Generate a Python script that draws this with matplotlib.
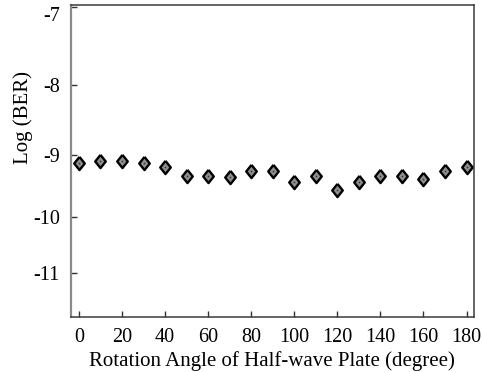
import matplotlib
matplotlib.use("Agg")
import matplotlib.pyplot as plt
import numpy as np
from matplotlib.ticker import FixedLocator

# rotation angle (degree) and measured log10(BER)
angle = [0, 10, 20, 30, 40, 50, 60, 70, 80, 90,
         100, 110, 120, 130, 140, 150, 160, 170, 180]
log_ber = [-9.13, -9.10, -9.09, -9.12, -9.19, -9.33, -9.33, -9.35, -9.25, -9.25,
           -9.42, -9.32, -9.55, -9.42, -9.32, -9.32, -9.37, -9.25, -9.18]
xticks = [0, 20, 40, 60, 80, 100, 120, 140, 160, 180]
yticks = [-7, -8, -9, -10, -11]

plt.rcParams['font.family'] = ['Liberation Serif', 'DejaVu Serif']

fig = plt.figure(figsize=(4.83, 3.72), dpi=100)
ax = fig.add_axes([0.147, 0.148, 0.834, 0.839])

# BER-style axis: -log(-log(BER))
fwd = lambda v: -np.log10(-np.clip(v, None, -1e-9))
inv = lambda y: -10.0 ** (-y)
ax.set_yscale('function', functions=(fwd, inv))

diamond = [(0, 1), (0.8, 0), (0, -1), (-0.8, 0), (0, 1)]
ax.plot(angle, log_ber, linestyle='none', marker=diamond, markersize=9.5,
        markerfacecolor='#8e8e8e', markeredgecolor='black', markeredgewidth=1.7)
ax.plot(angle, log_ber, linestyle='none', marker='o', markersize=1.2,
        markerfacecolor='#333333', markeredgecolor='none')

ax.set_xlim(-3.7, 183.4)
ax.set_ylim(-11.84, -6.98)
ax.xaxis.set_major_locator(FixedLocator(xticks))
ax.yaxis.set_major_locator(FixedLocator(yticks))
ax.yaxis.set_minor_locator(FixedLocator([]))
ax.set_yticklabels([str(t) for t in yticks])
# keep the top label inside the figure
ax.get_yticklabels()[0].set_verticalalignment('top')

ax.tick_params(direction='in', length=4, width=1, labelsize=14.5, pad=8,
               top=False, right=False, colors='#333333', labelcolor='black')

for s in ['top', 'right', 'bottom']:
    ax.spines[s].set_color('#3a3a3a')
    ax.spines[s].set_linewidth(1.1)
ax.spines['left'].set_color('#8a8a8a')
ax.spines['left'].set_linewidth(1.6)

ax.set_xlabel('Rotation Angle of Half-wave Plate (degree)', fontsize=15, labelpad=3)
ax.set_ylabel('Log (BER)', fontsize=15)
ax.yaxis.set_label_coords(-0.094, 0.64)

fig.savefig('out.png', dpi=100)
